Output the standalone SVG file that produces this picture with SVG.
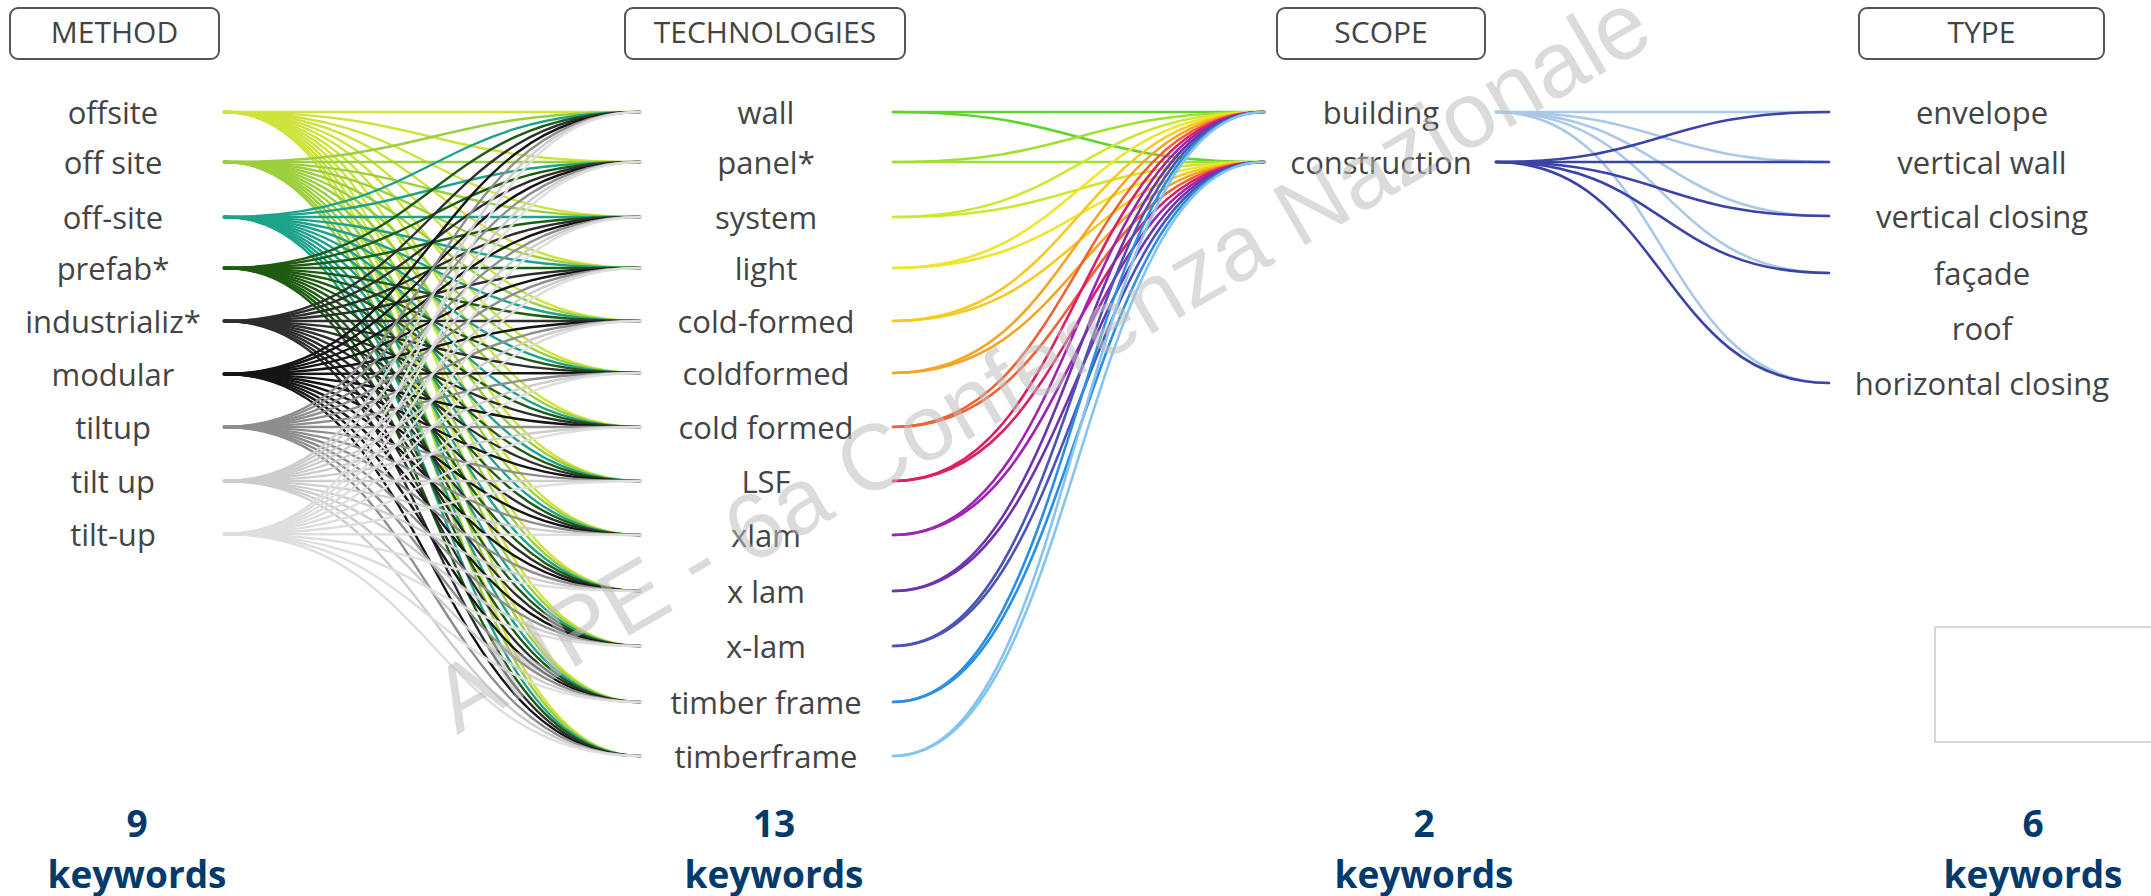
<svg xmlns="http://www.w3.org/2000/svg" width="2151" height="896" viewBox="0 0 2151 896">
<style>
  .hdr rect { fill: #fff; stroke: #555; stroke-width: 2; }
  .hdr text { font-family: "Open Sans", "Noto Sans", sans-serif; font-size: 30px; fill: #444; text-anchor: middle; }
  .lbl { font-family: "Open Sans", "Noto Sans", sans-serif; font-size: 31px; fill: #444; text-anchor: middle; }
  .cnt { font-family: "Open Sans", "Noto Sans", sans-serif; font-weight: 700; font-size: 37px; fill: #033a6c; text-anchor: middle; }
  .links path { fill: none; stroke-width: 2.4; stroke-linecap: round; }
  .m1 path { stroke: #cfe33c; } .m2 path { stroke: #9ccf3e; } .m3 path { stroke: #1ea38b; }
  .m4 path { stroke: #1f5c12; } .m5 path { stroke: #2e2e2e; } .m6 path { stroke: #151515; }
  .m7 path { stroke: #8e8e8e; } .m8 path { stroke: #cdcdcd; } .m9 path { stroke: #dedede; }
  .t-links path { stroke-width: 2.6; }
  .s-links path { stroke-width: 2.6; }
  .sb path { stroke: #a9c9e6; } .sc path { stroke: #3b43a8; }
  .wm { font-family: "Liberation Sans", Arial, sans-serif; font-size: 93px; fill: #bdbdbd; fill-opacity: 0.55; }
</style>

<!-- column headers -->
<g id="hdr-method" class="hdr"><rect x="10" y="8" width="209" height="51" rx="8"/><text x="114.5" y="43">METHOD</text></g>
<g id="hdr-technologies" class="hdr"><rect x="625" y="8" width="280" height="51" rx="8"/><text x="765" y="43">TECHNOLOGIES</text></g>
<g id="hdr-scope" class="hdr"><rect x="1277" y="8" width="208" height="51" rx="8"/><text x="1381" y="43">SCOPE</text></g>
<g id="hdr-type" class="hdr"><rect x="1859" y="8" width="245" height="51" rx="8"/><text x="1981.5" y="43">TYPE</text></g>

<!-- connectors -->
<g id="connectors" class="links">
  <!-- method -> technologies -->
  <g class="m1">
    <path d="M224 112C432 112 432 112 640 112"/><path d="M224 112C432 112 432 162 640 162"/><path d="M224 112C432 112 432 217 640 217"/><path d="M224 112C432 112 432 268 640 268"/><path d="M224 112C432 112 432 321 640 321"/><path d="M224 112C432 112 432 373 640 373"/><path d="M224 112C432 112 432 427 640 427"/><path d="M224 112C432 112 432 481 640 481"/><path d="M224 112C432 112 432 535 640 535"/><path d="M224 112C432 112 432 591 640 591"/><path d="M224 112C432 112 432 646 640 646"/><path d="M224 112C432 112 432 702 640 702"/><path d="M224 112C432 112 432 756 640 756"/>
  </g>
  <g class="m2">
    <path d="M224 162C432 162 432 112 640 112"/><path d="M224 162C432 162 432 162 640 162"/><path d="M224 162C432 162 432 217 640 217"/><path d="M224 162C432 162 432 268 640 268"/><path d="M224 162C432 162 432 321 640 321"/><path d="M224 162C432 162 432 373 640 373"/><path d="M224 162C432 162 432 427 640 427"/><path d="M224 162C432 162 432 481 640 481"/><path d="M224 162C432 162 432 535 640 535"/><path d="M224 162C432 162 432 591 640 591"/><path d="M224 162C432 162 432 646 640 646"/><path d="M224 162C432 162 432 702 640 702"/><path d="M224 162C432 162 432 756 640 756"/>
  </g>
  <g class="m3">
    <path d="M224 217C432 217 432 112 640 112"/><path d="M224 217C432 217 432 162 640 162"/><path d="M224 217C432 217 432 217 640 217"/><path d="M224 217C432 217 432 268 640 268"/><path d="M224 217C432 217 432 321 640 321"/><path d="M224 217C432 217 432 373 640 373"/><path d="M224 217C432 217 432 427 640 427"/><path d="M224 217C432 217 432 481 640 481"/><path d="M224 217C432 217 432 535 640 535"/><path d="M224 217C432 217 432 591 640 591"/><path d="M224 217C432 217 432 646 640 646"/><path d="M224 217C432 217 432 702 640 702"/><path d="M224 217C432 217 432 756 640 756"/>
  </g>
  <g class="m4">
    <path d="M224 268C432 268 432 112 640 112"/><path d="M224 268C432 268 432 162 640 162"/><path d="M224 268C432 268 432 217 640 217"/><path d="M224 268C432 268 432 268 640 268"/><path d="M224 268C432 268 432 321 640 321"/><path d="M224 268C432 268 432 373 640 373"/><path d="M224 268C432 268 432 427 640 427"/><path d="M224 268C432 268 432 481 640 481"/><path d="M224 268C432 268 432 535 640 535"/><path d="M224 268C432 268 432 591 640 591"/><path d="M224 268C432 268 432 646 640 646"/><path d="M224 268C432 268 432 702 640 702"/><path d="M224 268C432 268 432 756 640 756"/>
  </g>
  <g class="m5">
    <path d="M224 321C432 321 432 112 640 112"/><path d="M224 321C432 321 432 162 640 162"/><path d="M224 321C432 321 432 217 640 217"/><path d="M224 321C432 321 432 268 640 268"/><path d="M224 321C432 321 432 321 640 321"/><path d="M224 321C432 321 432 373 640 373"/><path d="M224 321C432 321 432 427 640 427"/><path d="M224 321C432 321 432 481 640 481"/><path d="M224 321C432 321 432 535 640 535"/><path d="M224 321C432 321 432 591 640 591"/><path d="M224 321C432 321 432 646 640 646"/><path d="M224 321C432 321 432 702 640 702"/><path d="M224 321C432 321 432 756 640 756"/>
  </g>
  <g class="m6">
    <path d="M224 374C432 374 432 112 640 112"/><path d="M224 374C432 374 432 162 640 162"/><path d="M224 374C432 374 432 217 640 217"/><path d="M224 374C432 374 432 268 640 268"/><path d="M224 374C432 374 432 321 640 321"/><path d="M224 374C432 374 432 373 640 373"/><path d="M224 374C432 374 432 427 640 427"/><path d="M224 374C432 374 432 481 640 481"/><path d="M224 374C432 374 432 535 640 535"/><path d="M224 374C432 374 432 591 640 591"/><path d="M224 374C432 374 432 646 640 646"/><path d="M224 374C432 374 432 702 640 702"/><path d="M224 374C432 374 432 756 640 756"/>
  </g>
  <g class="m7">
    <path d="M224 427C432 427 432 112 640 112"/><path d="M224 427C432 427 432 162 640 162"/><path d="M224 427C432 427 432 217 640 217"/><path d="M224 427C432 427 432 268 640 268"/><path d="M224 427C432 427 432 321 640 321"/><path d="M224 427C432 427 432 373 640 373"/><path d="M224 427C432 427 432 427 640 427"/><path d="M224 427C432 427 432 481 640 481"/><path d="M224 427C432 427 432 535 640 535"/><path d="M224 427C432 427 432 591 640 591"/><path d="M224 427C432 427 432 646 640 646"/><path d="M224 427C432 427 432 702 640 702"/><path d="M224 427C432 427 432 756 640 756"/>
  </g>
  <g class="m8">
    <path d="M224 481C432 481 432 112 640 112"/><path d="M224 481C432 481 432 162 640 162"/><path d="M224 481C432 481 432 217 640 217"/><path d="M224 481C432 481 432 268 640 268"/><path d="M224 481C432 481 432 321 640 321"/><path d="M224 481C432 481 432 373 640 373"/><path d="M224 481C432 481 432 427 640 427"/><path d="M224 481C432 481 432 481 640 481"/><path d="M224 481C432 481 432 535 640 535"/><path d="M224 481C432 481 432 591 640 591"/><path d="M224 481C432 481 432 646 640 646"/><path d="M224 481C432 481 432 702 640 702"/><path d="M224 481C432 481 432 756 640 756"/>
  </g>
  <g class="m9">
    <path d="M224 534C432 534 432 112 640 112"/><path d="M224 534C432 534 432 162 640 162"/><path d="M224 534C432 534 432 217 640 217"/><path d="M224 534C432 534 432 268 640 268"/><path d="M224 534C432 534 432 321 640 321"/><path d="M224 534C432 534 432 373 640 373"/><path d="M224 534C432 534 432 427 640 427"/><path d="M224 534C432 534 432 481 640 481"/><path d="M224 534C432 534 432 535 640 535"/><path d="M224 534C432 534 432 591 640 591"/><path d="M224 534C432 534 432 646 640 646"/><path d="M224 534C432 534 432 702 640 702"/><path d="M224 534C432 534 432 756 640 756"/>
  </g>

  <!-- technologies -> scope -->
  <g class="t-links">
    <path stroke="#5ed52a" d="M893 112C1078 112 1078 112 1264 112"/><path stroke="#5ed52a" d="M893 112C1078 112 1078 162 1264 162"/>
    <path stroke="#9fe033" d="M893 162C1078 162 1078 112 1264 112"/><path stroke="#9fe033" d="M893 162C1078 162 1078 162 1264 162"/>
    <path stroke="#cfe733" d="M893 217C1078 217 1078 112 1264 112"/><path stroke="#cfe733" d="M893 217C1078 217 1078 162 1264 162"/>
    <path stroke="#efe52c" d="M893 268C1078 268 1078 112 1264 112"/><path stroke="#efe52c" d="M893 268C1078 268 1078 162 1264 162"/>
    <path stroke="#f6c924" d="M893 321C1078 321 1078 112 1264 112"/><path stroke="#f6c924" d="M893 321C1078 321 1078 162 1264 162"/>
    <path stroke="#f5a425" d="M893 373C1078 373 1078 112 1264 112"/><path stroke="#f5a425" d="M893 373C1078 373 1078 162 1264 162"/>
    <path stroke="#ee6235" d="M893 427C1078 427 1078 112 1264 112"/><path stroke="#ee6235" d="M893 427C1078 427 1078 162 1264 162"/>
    <path stroke="#dc1f66" d="M893 481C1078 481 1078 112 1264 112"/><path stroke="#dc1f66" d="M893 481C1078 481 1078 162 1264 162"/>
    <path stroke="#a024b4" d="M893 535C1078 535 1078 112 1264 112"/><path stroke="#a024b4" d="M893 535C1078 535 1078 162 1264 162"/>
    <path stroke="#6e34ad" d="M893 591C1078 591 1078 112 1264 112"/><path stroke="#6e34ad" d="M893 591C1078 591 1078 162 1264 162"/>
    <path stroke="#4d55b4" d="M893 646C1078 646 1078 112 1264 112"/><path stroke="#4d55b4" d="M893 646C1078 646 1078 162 1264 162"/>
    <path stroke="#2b8fe2" d="M893 702C1078 702 1078 112 1264 112"/><path stroke="#2b8fe2" d="M893 702C1078 702 1078 162 1264 162"/>
    <path stroke="#86c4f0" d="M893 756C1078 756 1078 112 1264 112"/><path stroke="#86c4f0" d="M893 756C1078 756 1078 162 1264 162"/>
  </g>

  <!-- scope -> type -->
  <g class="s-links">
    <g class="sb">
      <path d="M1496 112C1662 112 1662 112 1829 112"/><path d="M1496 112C1662 112 1662 162 1829 162"/><path d="M1496 112C1662 112 1662 216 1829 216"/><path d="M1496 112C1662 112 1662 273 1829 273"/><path d="M1496 112C1662 112 1662 383 1829 383"/>
    </g>
    <g class="sc">
      <path d="M1496 162C1662 162 1662 112 1829 112"/><path d="M1496 162C1662 162 1662 162 1829 162"/><path d="M1496 162C1662 162 1662 216 1829 216"/><path d="M1496 162C1662 162 1662 273 1829 273"/><path d="M1496 162C1662 162 1662 383 1829 383"/>
    </g>
  </g>
</g>

<!-- method nodes -->
<g id="n-offsite"><text class="lbl" x="113" y="124">offsite</text></g>
<g id="n-off-site-space"><text class="lbl" x="113" y="174">off site</text></g>
<g id="n-off-site"><text class="lbl" x="113" y="229">off-site</text></g>
<g id="n-prefab"><text class="lbl" x="113" y="280">prefab*</text></g>
<g id="n-industrializ"><text class="lbl" x="113" y="333">industrializ*</text></g>
<g id="n-modular"><text class="lbl" x="113" y="386">modular</text></g>
<g id="n-tiltup"><text class="lbl" x="113" y="439">tiltup</text></g>
<g id="n-tilt-up-space"><text class="lbl" x="113" y="493">tilt up</text></g>
<g id="n-tilt-up"><text class="lbl" x="113" y="546">tilt-up</text></g>

<!-- technology nodes -->
<g id="n-wall"><text class="lbl" x="766" y="124">wall</text></g>
<g id="n-panel"><text class="lbl" x="766" y="174">panel*</text></g>
<g id="n-system"><text class="lbl" x="766" y="229">system</text></g>
<g id="n-light"><text class="lbl" x="766" y="280">light</text></g>
<g id="n-cold-formed"><text class="lbl" x="766" y="333">cold-formed</text></g>
<g id="n-coldformed"><text class="lbl" x="766" y="385">coldformed</text></g>
<g id="n-cold-formed-space"><text class="lbl" x="766" y="439">cold formed</text></g>
<g id="n-lsf"><text class="lbl" x="766" y="493">LSF</text></g>
<g id="n-xlam"><text class="lbl" x="766" y="547">xlam</text></g>
<g id="n-x-lam-space"><text class="lbl" x="766" y="603">x lam</text></g>
<g id="n-x-lam"><text class="lbl" x="766" y="658">x-lam</text></g>
<g id="n-timber-frame"><text class="lbl" x="766" y="714">timber frame</text></g>
<g id="n-timberframe"><text class="lbl" x="766" y="768">timberframe</text></g>

<!-- scope nodes -->
<g id="n-building"><text class="lbl" x="1381" y="124">building</text></g>
<g id="n-construction"><text class="lbl" x="1381" y="174">construction</text></g>

<!-- type nodes -->
<g id="n-envelope"><text class="lbl" x="1982" y="124">envelope</text></g>
<g id="n-vertical-wall"><text class="lbl" x="1982" y="174">vertical wall</text></g>
<g id="n-vertical-closing"><text class="lbl" x="1982" y="228">vertical closing</text></g>
<g id="n-facade"><text class="lbl" x="1982" y="285">façade</text></g>
<g id="n-roof"><text class="lbl" x="1982" y="340">roof</text></g>
<g id="n-horizontal-closing"><text class="lbl" x="1982" y="395">horizontal closing</text></g>

<!-- keyword counts -->
<g id="count-method"><text class="cnt" x="137" y="837">9</text><text class="cnt" x="137" y="888">keywords</text></g>
<g id="count-technologies"><text class="cnt" x="774" y="837">13</text><text class="cnt" x="774" y="888">keywords</text></g>
<g id="count-scope"><text class="cnt" x="1424" y="837">2</text><text class="cnt" x="1424" y="888">keywords</text></g>
<g id="count-type"><text class="cnt" x="2033" y="837">6</text><text class="cnt" x="2033" y="888">keywords</text></g>

<!-- empty legend frame, right edge -->
<rect x="1935" y="627" width="240" height="115" fill="none" stroke="#cacaca" stroke-width="1.5"/>

<!-- watermark -->
<text class="wm" x="457" y="735" transform="rotate(-30 457 735)">ANPE - 6a Conferenza Nazionale</text>
</svg>
